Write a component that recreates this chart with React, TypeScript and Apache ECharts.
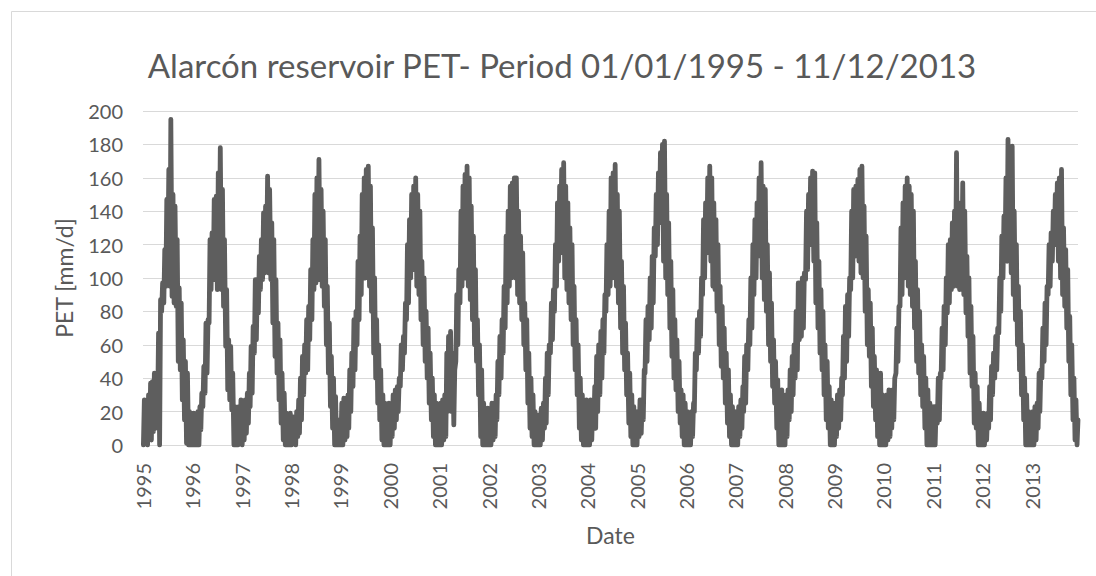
import React, { useEffect, useRef } from "react";
import * as echarts from "echarts";

// Title and axis texts
const chartTitle = "Alarcón reservoir PET- Period 01/01/1995 - 11/12/2013";
const yAxisTitle = "PET [mm/d]";
const xAxisTitle = "Date";

// Year tick labels (placed on 1 January of each year)
const yearLabels = [1995, 1996, 1997, 1998, 1999, 2000, 2001, 2002, 2003, 2004, 2005, 2006, 2007, 2008, 2009, 2010, 2011, 2012, 2013];

// PET [mm/d]: for each half month (1st and 16th of each month)
// the low and the high value of the daily band, as pairs lo,hi
const pet1995 = [0,27, 2,25, 0,30, 5,37, 3,38, 8,43, 10,40, 20,67, 0,87, 80,97, 85,117, 95,147, 110,165, 95,195, 89,150, 85,143, 83,123, 50,94, 45,85, 27,63, 15,50, 1,43, 0,20, 0,19];
const pet1996 = [0,19, 0,17, 0,20, 0,23, 9,31, 23,47, 31,73, 43,75, 73,123, 93,127, 99,147, 103,149, 93,163, 113,178, 93,153, 83,123, 59,93, 33,63, 27,59, 21,43, 0,23, 0,13, 0,23, 3,27];
const pet1997 = [0,19, 3,27, 7,31, 13,43, 23,59, 31,71, 55,99, 63,99, 79,113, 93,123, 99,139, 103,143, 113,161, 103,153, 99,133, 73,123, 53,99, 43,73, 27,63, 13,43, 3,31, 0,19, 0,13, 0,19];
const pet1998 = [0,17, 2,15, 0,20, 5,27, 7,40, 15,53, 30,60, 43,75, 45,83, 63,105, 75,123, 93,150, 97,160, 100,171, 99,153, 95,140, 83,123, 60,95, 43,73, 23,53, 10,40, 0,29, 0,13, 0,15];
const pet1999 = [0,25, 0,28, 3,28, 5,30, 10,45, 20,55, 35,75, 45,80, 60,110, 75,125, 90,150, 100,160, 100,165, 110,167, 95,155, 80,130, 55,100, 40,75, 25,60, 15,45, 3,30, 0,25, 0,20, 0,25];
const pet2000 = [0,20, 5,30, 10,33, 15,35, 20,40, 35,60, 45,65, 55,85, 75,120, 85,135, 100,150, 105,155, 110,160, 95,150, 90,140, 75,110, 60,100, 50,80, 40,70, 25,55, 15,40, 5,30, 0,25, 0,20];
const pet2001 = [0,25, 0,27, 3,30, 5,55, 20,65, 25,68, 20,55, 12,45, 50,90, 60,105, 85,140, 95,155, 100,162, 100,167, 95,160, 87,143, 75,125, 60,105, 50,75, 30,60, 5,45, 0,25, 0,20, 0,22];
const pet2002 = [0,20, 0,25, 3,25, 5,30, 15,50, 30,65, 40,75, 55,95, 70,125, 85,140, 95,155, 100,157, 105,160, 100,160, 90,140, 85,125, 75,115, 60,85, 45,75, 25,55, 10,40, 5,30, 0,20, 0,18];
const pet2003 = [0,18, 0,22, 3,25, 10,40, 13,55, 30,60, 55,85, 63,93, 80,120, 95,145, 110,155, 125,165, 115,169, 100,155, 93,145, 85,130, 75,120, 60,95, 45,75, 30,60, 10,40, 3,30, 0,25, 0,27];
const pet2004 = [0,25, 0,27, 3,25, 10,35, 10,53, 20,60, 30,68, 40,75, 55,90, 80,120, 90,140, 95,160, 100,163, 105,168, 95,150, 85,140, 70,110, 55,95, 45,73, 30,55, 13,43, 5,30, 0,23, 0,20];
const pet2005 = [0,20, 5,27, 7,27, 15,45, 43,75, 50,83, 63,100, 70,113, 85,130, 113,150, 120,163, 133,175, 135,180, 110,182, 100,150, 90,133, 70,110, 53,93, 40,75, 33,63, 20,50, 13,33, 5,30, 0,25];
const pet2006 = [0,20, 0,18, 0,20, 5,25, 20,55, 45,75, 55,80, 65,100, 90,135, 100,145, 115,160, 120,167, 110,160, 95,145, 93,135, 80,120, 60,95, 47,83, 40,70, 25,55, 13,45, 5,30, 0,23, 0,20];
const pet2007 = [0,20, 0,23, 5,27, 10,35, 20,53, 25,60, 45,75, 60,100, 70,120, 90,135, 100,145, 113,160, 115,169, 100,155, 87,153, 80,120, 60,103, 50,85, 35,63, 25,50, 10,39, 0,30, 0,33, 0,25];
const pet2008 = [0,30, 5,33, 15,45, 20,53, 30,60, 40,80, 45,97, 63,97, 65,100, 70,103, 99,140, 105,150, 120,160, 123,164, 110,163, 85,133, 70,110, 55,93, 45,80, 30,60, 15,50, 10,35, 0,27, 0,25];
const pet2009 = [0,25, 5,30, 10,33, 15,40, 30,65, 40,83, 50,90, 65,100, 93,140, 100,153, 113,155, 115,159, 110,165, 103,167, 100,143, 80,125, 60,93, 53,85, 35,70, 23,53, 15,45, 5,43, 0,43, 0,30];
const pet2010 = [0,25, 0,30, 3,33, 5,30, 10,33, 15,40, 43,70, 50,83, 83,130, 90,145, 100,155, 105,160, 95,155, 90,150, 83,140, 70,110, 50,93, 43,80, 30,60, 23,53, 10,40, 0,33, 0,25, 0,23];
const pet2011 = [0,23, 0,23, 13,40, 15,43, 40,70, 45,83, 60,100, 79,120, 85,123, 93,133, 95,140, 100,175, 95,145, 93,133, 103,157, 90,140, 79,113, 65,100, 43,83, 35,65, 13,43, 10,35, 0,25, 0,19];
const pet2012 = [0,19, 0,15, 3,19, 10,35, 15,47, 30,55, 40,65, 45,70, 67,100, 80,125, 100,137, 115,160, 110,183, 113,150, 103,179, 90,140, 75,120, 60,95, 45,80, 30,60, 15,40, 0,30, 0,20, 0,15];
const pet2013 = [0,20, 0,23, 3,25, 10,43, 20,45, 40,70, 50,85, 60,95, 90,120, 95,127, 110,140, 120,150, 125,157, 110,160, 100,165, 90,130, 83,117, 70,105, 50,77, 30,60, 15,40, 3,27, 0,15];

const yearValues = [pet1995, pet1996, pet1997, pet1998, pet1999, pet2000, pet2001, pet2002, pet2003, pet2004, pet2005, pet2006, pet2007, pet2008, pet2009, pet2010, pet2011, pet2012, pet2013];

const BASE = Date.UTC(1995, 0, 1);
const dayOf = (y: number, m: number, d: number) => Math.round((Date.UTC(y, m, d) - BASE) / 86400000);
const LAST_DAY = dayOf(2013, 11, 11);

function buildSeries(): number[][] {
  const out: number[][] = [];
  yearLabels.forEach((year, yi) => {
    const arr = yearValues[yi];
    const halves = arr.length / 2;
    for (let k = 0; k < halves; k++) {
      const month = Math.floor(k / 2);
      const firstHalf = k % 2 === 0;
      const loDay = firstHalf ? 4 : 19;
      const hiDay = firstHalf ? 11 : 26;
      out.push([dayOf(year, month, loDay), arr[2 * k]]);
      out.push([dayOf(year, month, hiDay), arr[2 * k + 1]]);
    }
  });
  return out;
}

const TEXT = "#595959";
const GRID = "#d9d9d9";
const FONT = "Lato, 'Open Sans', sans-serif";

export default function App() {
  const ref = useRef<HTMLDivElement>(null);
  useEffect(() => {
    if (!ref.current) return;
    const chart = echarts.init(ref.current, undefined, { renderer: "svg" });
    const yearStarts = yearLabels.map((y) => dayOf(y, 0, 1));
    chart.setOption({
      animation: false,
      backgroundColor: "#ffffff",
      title: {
        text: chartTitle,
        left: 557,
        top: 43,
        textAlign: "center",
        textStyle: { color: TEXT, fontSize: 33, fontWeight: "normal", fontFamily: FONT },
      },
      graphic: [
        {
          type: "rect",
          silent: true,
          z: -10,
          shape: { x: 11.5, y: 11.5, width: 1200, height: 700 },
          style: { fill: "none", stroke: GRID, lineWidth: 1 },
        },
      ],
      grid: { left: 143, right: 18, top: 111, bottom: 131, containLabel: false },
      xAxis: {
        type: "value",
        min: 0,
        max: LAST_DAY,
        name: xAxisTitle,
        nameLocation: "middle",
        nameGap: 78,
        nameTextStyle: { color: TEXT, fontSize: 23, fontFamily: FONT },
        axisLine: { show: true, lineStyle: { color: GRID, width: 1 } },
        axisTick: { show: false },
        splitLine: { show: false },
        axisLabel: {
          customValues: yearStarts,
          rotate: 90,
          margin: 18,
          color: TEXT,
          fontSize: 20,
          fontFamily: FONT,
          showMinLabel: true,
          formatter: (v: number) => {
            const idx = yearStarts.indexOf(Math.round(v));
            return idx >= 0 ? String(yearLabels[idx]) : "";
          },
        },
      },
      yAxis: {
        type: "value",
        min: 0,
        max: 200,
        interval: 20,
        name: yAxisTitle,
        nameLocation: "middle",
        nameGap: 68,
        nameTextStyle: { color: TEXT, fontSize: 23, fontFamily: FONT },
        axisLine: { show: false },
        axisTick: { show: false },
        splitLine: { show: true, lineStyle: { color: GRID, width: 1 } },
        axisLabel: { color: TEXT, fontSize: 20, fontFamily: FONT, margin: 20 },
      },
      series: [
        {
          type: "line",
          data: buildSeries(),
          showSymbol: false,
          symbol: "none",
          lineStyle: { color: "#5e5e5e", width: 4.8, join: "round", cap: "round" },
          silent: true,
        },
      ],
    });
    return () => chart.dispose();
  }, []);
  return (
    <div
      ref={ref}
      style={{ position: "fixed", left: 0, top: 0, width: 1096, height: 576, background: "#fff" }}
    />
  );
}
